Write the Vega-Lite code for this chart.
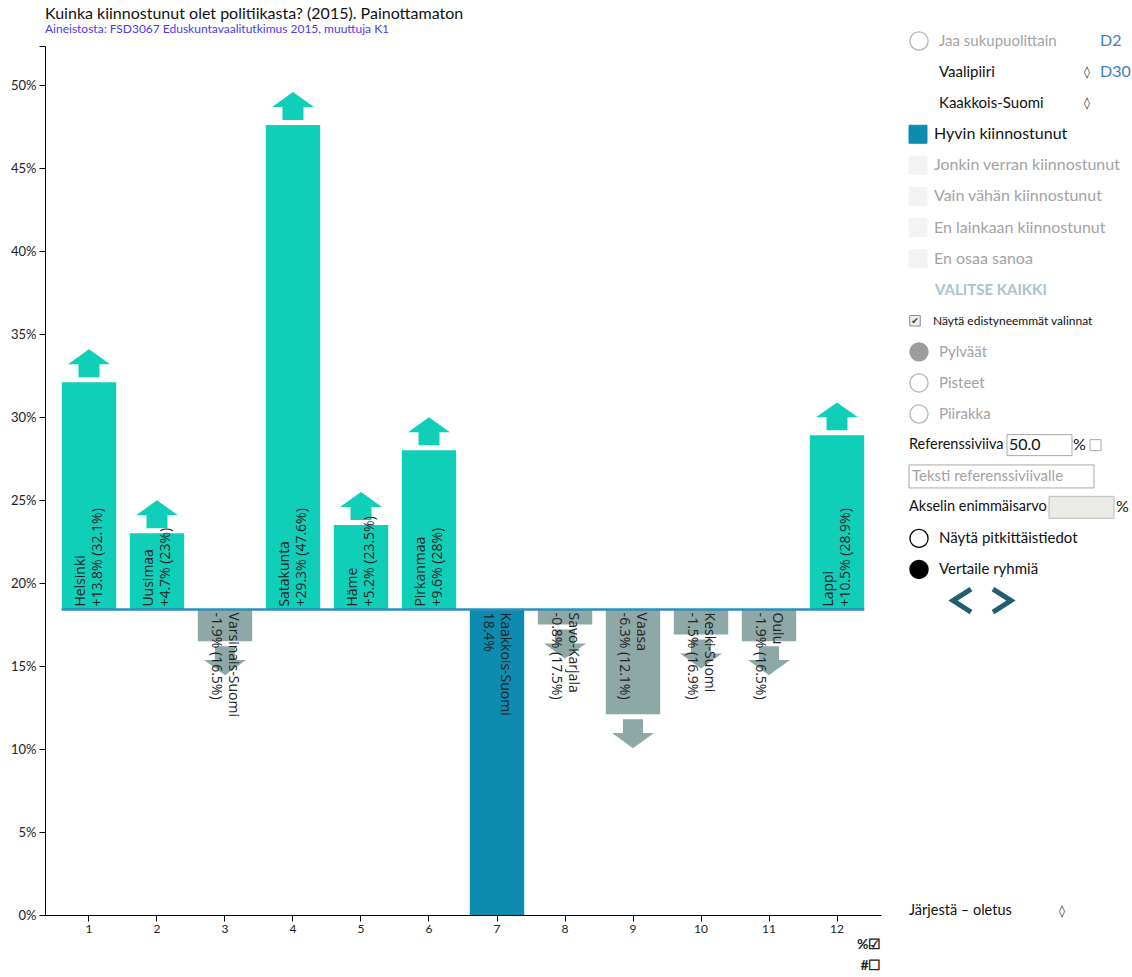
{
  "$schema": "https://vega.github.io/schema/vega-lite/v6.json",
  "padding": {"left": 5, "top": 5, "right": 5, "bottom": 0},
  "config": {"view": {"stroke": null}, "font": "Lato", "axis": {"labelFont": "Lato", "titleFont": "Lato"}},
  "datasets": {
    "alueet": [
      {"nro": 1, "alue": "Helsinki", "arvo": 32.1, "ero": 13.8, "valittu": false},
      {"nro": 2, "alue": "Uusimaa", "arvo": 23, "ero": 4.7, "valittu": false},
      {"nro": 3, "alue": "Varsinais-Suomi", "arvo": 16.5, "ero": -1.9, "valittu": false},
      {"nro": 4, "alue": "Satakunta", "arvo": 47.6, "ero": 29.3, "valittu": false},
      {"nro": 5, "alue": "Häme", "arvo": 23.5, "ero": 5.2, "valittu": false},
      {"nro": 6, "alue": "Pirkanmaa", "arvo": 28, "ero": 9.6, "valittu": false},
      {"nro": 7, "alue": "Kaakkois-Suomi", "arvo": 18.4, "ero": 0, "valittu": true},
      {"nro": 8, "alue": "Savo-Karjala", "arvo": 17.5, "ero": -0.8, "valittu": false},
      {"nro": 9, "alue": "Vaasa", "arvo": 12.1, "ero": -6.3, "valittu": false},
      {"nro": 10, "alue": "Keski-Suomi", "arvo": 16.9, "ero": -1.5, "valittu": false},
      {"nro": 11, "alue": "Oulu", "arvo": 16.5, "ero": -1.9, "valittu": false},
      {"nro": 12, "alue": "Lappi", "arvo": 28.9, "ero": 10.5, "valittu": false}
    ],
    "paneeli": [
      {"rivi": 0, "teksti": "Jaa sukupuolittain", "osa": "radio", "tila": "harmaa", "ikoni": "ympyrä-harmaa"},
      {"rivi": 1, "teksti": "Vaalipiiri", "osa": "radio", "tila": "musta"},
      {"rivi": 2, "teksti": "Kaakkois-Suomi", "osa": "radio", "tila": "musta"},
      {"rivi": 3, "teksti": "Hyvin kiinnostunut", "osa": "luokka", "tila": "musta", "ikoni": "neliö-valittu"},
      {"rivi": 4, "teksti": "Jonkin verran kiinnostunut", "osa": "luokka", "tila": "harmaa", "ikoni": "neliö-tyhjä"},
      {"rivi": 5, "teksti": "Vain vähän kiinnostunut", "osa": "luokka", "tila": "harmaa", "ikoni": "neliö-tyhjä"},
      {"rivi": 6, "teksti": "En lainkaan kiinnostunut", "osa": "luokka", "tila": "harmaa", "ikoni": "neliö-tyhjä"},
      {"rivi": 7, "teksti": "En osaa sanoa", "osa": "luokka", "tila": "harmaa", "ikoni": "neliö-tyhjä"},
      {"rivi": 8, "teksti": "VALITSE KAIKKI", "osa": "valitse", "tila": "vaalea"},
      {"rivi": 9, "teksti": "Näytä edistyneemmät valinnat", "osa": "pieni", "tila": "musta", "ikoni": "valintaruutu"},
      {"rivi": 10, "teksti": "Pylväät", "osa": "radio", "tila": "harmaa", "ikoni": "täysi-harmaa"},
      {"rivi": 11, "teksti": "Pisteet", "osa": "radio", "tila": "harmaa", "ikoni": "ympyrä-harmaa"},
      {"rivi": 12, "teksti": "Piirakka", "osa": "radio", "tila": "harmaa", "ikoni": "ympyrä-harmaa"},
      {"rivi": 13, "teksti": "Referenssiviiva", "osa": "kenttä", "tila": "musta"},
      {"rivi": 14, "teksti": "Teksti referenssiviivalle", "osa": "vihje", "tila": "harmaa"},
      {"rivi": 15, "teksti": "Akselin enimmäisarvo", "osa": "kenttä", "tila": "musta"},
      {"rivi": 16, "teksti": "Näytä pitkittäistiedot", "osa": "radio", "tila": "musta", "ikoni": "ympyrä-musta"},
      {"rivi": 17, "teksti": "Vertaile ryhmiä", "osa": "radio", "tila": "musta", "ikoni": "täysi-musta"},
      {"rivi": 28, "teksti": "Järjestä – oletus", "osa": "kenttä", "tila": "musta"},
      {"rivi": 0, "teksti": "D2", "osa": "koodi", "tila": "sininen"},
      {"rivi": 1, "teksti": "D30", "osa": "koodi", "tila": "sininen"},
      {"rivi": 1, "teksti": "◊", "osa": "valitsin", "tila": "musta"},
      {"rivi": 2, "teksti": "◊", "osa": "valitsin", "tila": "musta"},
      {"rivi": 28, "teksti": "◊", "osa": "valitsin2", "tila": "musta"},
      {"rivi": 13, "teksti": "50.0", "osa": "arvo", "tila": "musta"},
      {"rivi": 13, "teksti": "%", "osa": "pros1", "tila": "musta"},
      {"rivi": 15, "teksti": "%", "osa": "pros2", "tila": "musta"},
      {"rivi": 9, "teksti": "✔", "osa": "rasti", "tila": "musta"},
      {"rivi": 13, "osa": "kentät"},
      {"rivi": 15, "osa": "harmaakenttä"},
      {"rivi": 18, "osa": "navigointi"}
    ]
  },
  "resolve": {"scale": {"color": "independent", "fill": "independent", "stroke": "independent", "shape": "independent"}},
  "spacing": 26,
  "hconcat": [
    {
      "width": 836,
      "height": 869,
      "title": {
        "text": "Kuinka kiinnostunut olet politiikasta? (2015). Painottamaton",
        "subtitle": "Aineistosta: FSD3067 Eduskuntavaalitutkimus 2015, muuttuja K1",
        "anchor": "start",
        "frame": "group",
        "font": "Lato",
        "fontSize": 16,
        "fontWeight": "normal",
        "color": "#111111",
        "subtitleFont": "Lato",
        "subtitleFontSize": 12,
        "subtitleColor": "#4a3af0",
        "subtitlePadding": 2,
        "offset": 11
      },
      "data": {"name": "alueet"},
      "transform": [
        {"calculate": "datum.valittu ? 'valittu' : (datum.arvo > 18.4 ? 'ylempi' : 'alempi')", "as": "suunta"},
        {"calculate": "[datum.alue, datum.valittu ? datum.arvo + '%' : (datum.ero > 0 ? '+' : '') + datum.ero + '% (' + datum.arvo + '%)']", "as": "rivit"}
      ],
      "encoding": {
        "x": {
          "field": "nro",
          "type": "ordinal",
          "scale": {"paddingInner": 0.2, "paddingOuter": 0.247},
          "axis": {
            "title": ["%☑", "#☐"],
            "titleAnchor": "end",
            "titleAlign": "right",
            "titleFontSize": 14,
            "titleFontWeight": "bold",
            "titleLineHeight": 21,
            "titlePadding": 3,
            "titleColor": "#222222",
            "labelAngle": 0,
            "labelFontSize": 12,
            "labelPadding": 2,
            "labelColor": "#222222",
            "tickSize": 6,
            "tickColor": "#000000",
            "domainColor": "#000000"
          }
        }
      },
      "layer": [
        {
          "transform": [{"filter": "!datum.valittu"}],
          "mark": {"type": "bar"},
          "encoding": {
            "y": {
              "field": "arvo",
              "type": "quantitative",
              "scale": {"domain": [0, 52.36], "nice": false},
              "axis": {
                "title": null,
                "values": [0, 5, 10, 15, 20, 25, 30, 35, 40, 45, 50, 52.36],
                "labelExpr": "datum.value > 51 ? '' : datum.value + '%'",
                "grid": false,
                "tickSize": 6,
                "labelPadding": 3,
                "labelFontSize": 13,
                "labelColor": "#222222",
                "tickColor": "#000000",
                "domainColor": "#000000",
                "minExtent": 40
              }
            },
            "y2": {"datum": 18.4},
            "color": {"field": "suunta", "type": "nominal", "scale": {"domain": ["ylempi", "alempi", "valittu"], "range": ["#10cfb9", "#8ea8a7", "#0d8caf"]}, "legend": null}
          }
        },
        {
          "transform": [{"filter": "datum.valittu"}],
          "mark": {"type": "bar"},
          "encoding": {
            "y": {"field": "arvo", "type": "quantitative"},
            "y2": {"datum": 0},
            "color": {"field": "suunta", "type": "nominal", "scale": {"domain": ["ylempi", "alempi", "valittu"], "range": ["#10cfb9", "#8ea8a7", "#0d8caf"]}, "legend": null}
          }
        },
        {
          "transform": [{"filter": "!datum.valittu"}],
          "mark": {"type": "point", "filled": true, "opacity": 1, "size": 1764, "strokeWidth": 0},
          "encoding": {
            "y": {"field": "arvo", "type": "quantitative"},
            "shape": {"field": "suunta", "type": "nominal", "scale": {"domain": ["ylempi", "alempi"], "range": ["M-0.5,-0.24L-0.5,-0.86L-1,-0.86L0,-1.57L1,-0.86L0.5,-0.86L0.5,-0.24Z", "M-0.48,0.24L-0.48,0.9L-1,0.9L0,1.62L1,0.9L0.48,0.9L0.48,0.24Z"]}, "legend": null},
            "color": {"field": "suunta", "type": "nominal", "scale": {"domain": ["ylempi", "alempi", "valittu"], "range": ["#10cfb9", "#8ea8a7", "#0d8caf"]}, "legend": null}
          }
        },
        {
          "data": {"values": [{}]},
          "mark": {"type": "rule", "color": "#2a90bb", "strokeWidth": 2.5},
          "encoding": {
            "x": {"datum": 1, "type": "ordinal", "bandPosition": 0},
            "x2": {"datum": 12, "bandPosition": 1},
            "y": {"datum": 18.4, "type": "quantitative"}
          }
        },
        {
          "mark": {"type": "text", "align": "left", "baseline": "middle", "dx": 3, "dy": -8, "font": "Open Sans", "fontSize": 14, "lineHeight": 17, "color": "#222222"},
          "encoding": {
            "y": {"datum": 18.4, "type": "quantitative"},
            "text": {"field": "rivit"},
            "angle": {"condition": {"test": "datum.arvo > 18.4", "value": 270}, "value": 90}
          }
        }
      ]
    },
    {
      "width": 215,
      "height": 881,
      "data": {"name": "paneeli"},
      "encoding": {
        "x": {"datum": "A", "type": "nominal", "scale": {"domain": ["A", "B"], "padding": 0}, "axis": null},
        "y": {"field": "rivi", "type": "quantitative", "scale": {"domain": [0.161, 28.5], "reverse": true, "nice": false, "zero": false}, "axis": null}
      },
      "layer": [
        {
          "transform": [{"filter": "datum.osa == 'kentät'"}],
          "mark": {"type": "point", "filled": true, "opacity": 1, "size": 400, "shape": "M9.8,-1.05H16.3V1.05H9.8Z M18.1,-0.55H19.2V0.55H18.1Z M0,1.98H18.5V4.28H0Z", "fill": "#ffffff", "stroke": "#a9a9a9", "strokeWidth": 1}
        },
        {
          "transform": [{"filter": "datum.osa == 'harmaakenttä'"}],
          "mark": {"type": "point", "filled": true, "opacity": 1, "size": 400, "shape": "M14,-1.1H20.5V1.1H14Z", "fill": "#ebebe6", "stroke": "#bbbbbb", "strokeWidth": 1}
        },
        {
          "transform": [{"filter": "datum.osa == 'navigointi'"}],
          "mark": {"type": "point", "filled": false, "opacity": 1, "size": 400, "shape": "M6.2,-1.15L4.4,0L6.2,1.15 M8.4,-1.15L10.2,0L8.4,1.15", "stroke": "#1f5f6e", "strokeWidth": 5}
        },
        {
          "transform": [{"filter": "indexof(['ympyrä-harmaa','täysi-harmaa','ympyrä-musta','täysi-musta'], datum.ikoni) >= 0"}],
          "mark": {"type": "point", "filled": true, "opacity": 1, "size": 330, "shape": "circle", "xOffset": 10, "strokeWidth": 1.3},
          "encoding": {
            "fill": {"field": "ikoni", "type": "nominal", "scale": {"domain": ["ympyrä-harmaa", "täysi-harmaa", "ympyrä-musta", "täysi-musta", "neliö-valittu", "neliö-tyhjä", "valintaruutu"], "range": ["#ffffff", "#9d9d9d", "#ffffff", "#000000", "#0d8caf", "#f3f3f3", "#eeeeee"]}, "legend": null},
            "stroke": {"field": "ikoni", "type": "nominal", "scale": {"domain": ["ympyrä-harmaa", "täysi-harmaa", "ympyrä-musta", "täysi-musta", "neliö-valittu", "neliö-tyhjä", "valintaruutu"], "range": ["#b5b5b5", "#9d9d9d", "#000000", "#000000", "#0d8caf", "#f3f3f3", "#8a8a8a"]}, "legend": null}
          }
        },
        {
          "transform": [{"filter": "indexof(['neliö-valittu','neliö-tyhjä'], datum.ikoni) >= 0"}],
          "mark": {"type": "point", "filled": true, "opacity": 1, "size": 324, "shape": "square", "xOffset": 9, "strokeWidth": 1},
          "encoding": {
            "fill": {"field": "ikoni", "type": "nominal", "scale": {"domain": ["ympyrä-harmaa", "täysi-harmaa", "ympyrä-musta", "täysi-musta", "neliö-valittu", "neliö-tyhjä", "valintaruutu"], "range": ["#ffffff", "#9d9d9d", "#ffffff", "#000000", "#0d8caf", "#f3f3f3", "#eeeeee"]}, "legend": null},
            "stroke": {"field": "ikoni", "type": "nominal", "scale": {"domain": ["ympyrä-harmaa", "täysi-harmaa", "ympyrä-musta", "täysi-musta", "neliö-valittu", "neliö-tyhjä", "valintaruutu"], "range": ["#b5b5b5", "#9d9d9d", "#000000", "#000000", "#0d8caf", "#f3f3f3", "#8a8a8a"]}, "legend": null}
          }
        },
        {
          "transform": [{"filter": "datum.ikoni == 'valintaruutu'"}],
          "mark": {"type": "point", "filled": true, "opacity": 1, "size": 110, "shape": "square", "xOffset": 6, "strokeWidth": 1, "fill": "#eeeeee", "stroke": "#8a8a8a"}
        },
        {
          "transform": [{"filter": "datum.osa == 'rasti'"}],
          "mark": {"type": "text", "align": "center", "baseline": "middle", "dx": 6, "font": "DejaVu Sans", "fontSize": 9, "color": "#333333"},
          "encoding": {"text": {"field": "teksti"}}
        },
        {
          "transform": [{"filter": "datum.osa == 'radio'"}],
          "mark": {"type": "text", "align": "left", "baseline": "middle", "dx": 30, "font": "Lato", "fontSize": 15},
          "encoding": {"text": {"field": "teksti"}, "color": {"field": "tila", "type": "nominal", "scale": {"domain": ["musta", "harmaa", "vaalea", "sininen"], "range": ["#111111", "#a3a3a3", "#a9c4cd", "#3b7ec5"]}, "legend": null}}
        },
        {
          "transform": [{"filter": "datum.osa == 'luokka'"}],
          "mark": {"type": "text", "align": "left", "baseline": "middle", "dx": 25, "font": "Lato", "fontSize": 16},
          "encoding": {"text": {"field": "teksti"}, "color": {"field": "tila", "type": "nominal", "scale": {"domain": ["musta", "harmaa", "vaalea", "sininen"], "range": ["#111111", "#a3a3a3", "#a9c4cd", "#3b7ec5"]}, "legend": null}}
        },
        {
          "transform": [{"filter": "datum.osa == 'valitse'"}],
          "mark": {"type": "text", "align": "left", "baseline": "middle", "dx": 26, "font": "Lato", "fontSize": 15, "fontWeight": "bold"},
          "encoding": {"text": {"field": "teksti"}, "color": {"field": "tila", "type": "nominal", "scale": {"domain": ["musta", "harmaa", "vaalea", "sininen"], "range": ["#111111", "#a3a3a3", "#a9c4cd", "#3b7ec5"]}, "legend": null}}
        },
        {
          "transform": [{"filter": "datum.osa == 'pieni'"}],
          "mark": {"type": "text", "align": "left", "baseline": "middle", "dx": 24, "font": "Lato", "fontSize": 12},
          "encoding": {"text": {"field": "teksti"}, "color": {"field": "tila", "type": "nominal", "scale": {"domain": ["musta", "harmaa", "vaalea", "sininen"], "range": ["#111111", "#a3a3a3", "#a9c4cd", "#3b7ec5"]}, "legend": null}}
        },
        {
          "transform": [{"filter": "datum.osa == 'kenttä'"}],
          "mark": {"type": "text", "align": "left", "baseline": "middle", "dx": 0, "font": "Lato", "fontSize": 14.5},
          "encoding": {"text": {"field": "teksti"}, "color": {"field": "tila", "type": "nominal", "scale": {"domain": ["musta", "harmaa", "vaalea", "sininen"], "range": ["#111111", "#a3a3a3", "#a9c4cd", "#3b7ec5"]}, "legend": null}}
        },
        {
          "transform": [{"filter": "datum.osa == 'vihje'"}],
          "mark": {"type": "text", "align": "left", "baseline": "middle", "dx": 3, "font": "Lato", "fontSize": 15},
          "encoding": {"text": {"field": "teksti"}, "color": {"field": "tila", "type": "nominal", "scale": {"domain": ["musta", "harmaa", "vaalea", "sininen"], "range": ["#111111", "#a3a3a3", "#a9c4cd", "#3b7ec5"]}, "legend": null}}
        },
        {
          "transform": [{"filter": "datum.osa == 'koodi'"}],
          "mark": {"type": "text", "align": "left", "baseline": "middle", "dx": 191, "font": "Lato", "fontSize": 16},
          "encoding": {"text": {"field": "teksti"}, "color": {"field": "tila", "type": "nominal", "scale": {"domain": ["musta", "harmaa", "vaalea", "sininen"], "range": ["#111111", "#a3a3a3", "#a9c4cd", "#3b7ec5"]}, "legend": null}}
        },
        {
          "transform": [{"filter": "datum.osa == 'valitsin'"}],
          "mark": {"type": "text", "align": "center", "baseline": "middle", "dx": 178, "font": "DejaVu Sans", "fontSize": 12, "color": "#333333"},
          "encoding": {"text": {"field": "teksti"}}
        },
        {
          "transform": [{"filter": "datum.osa == 'valitsin2'"}],
          "mark": {"type": "text", "align": "center", "baseline": "middle", "dx": 153, "font": "DejaVu Sans", "fontSize": 12, "color": "#333333"},
          "encoding": {"text": {"field": "teksti"}}
        },
        {
          "transform": [{"filter": "datum.osa == 'arvo'"}],
          "mark": {"type": "text", "align": "left", "baseline": "middle", "dx": 100, "font": "Lato", "fontSize": 16, "color": "#111111"},
          "encoding": {"text": {"field": "teksti"}}
        },
        {
          "transform": [{"filter": "datum.osa == 'pros1'"}],
          "mark": {"type": "text", "align": "left", "baseline": "middle", "dx": 164, "font": "Lato", "fontSize": 16, "color": "#111111"},
          "encoding": {"text": {"field": "teksti"}}
        },
        {
          "transform": [{"filter": "datum.osa == 'pros2'"}],
          "mark": {"type": "text", "align": "left", "baseline": "middle", "dx": 207, "font": "Lato", "fontSize": 16, "color": "#111111"},
          "encoding": {"text": {"field": "teksti"}}
        }
      ]
    }
  ]
}
